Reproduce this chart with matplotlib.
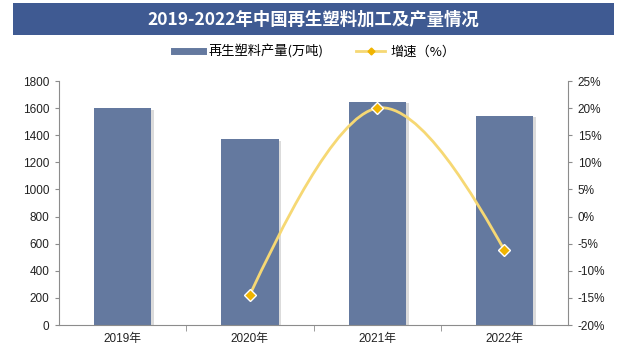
import matplotlib
matplotlib.use('Agg')
import matplotlib.pyplot as plt
import matplotlib.patheffects as pe
from matplotlib.path import Path
from matplotlib.patches import PathPatch, Rectangle
from matplotlib.lines import Line2D
from matplotlib.ticker import FuncFormatter

# data
years = ['2019年', '2020年', '2021年', '2022年']
output = [1600, 1370, 1645, 1545]          # 再生塑料产量(万吨)
growth_years = [1, 2, 3]                    # index of 2020-2022
growth = [-14.4, 20.0, -6.2]                # 增速(%)

plt.rcParams['font.family'] = ['Liberation Sans', 'Noto Sans CJK SC']

bar_color = '#64799f'
line_color = '#f6d874'
marker_color = '#f0b400'
axis_color = '#8c8c8c'

fig = plt.figure(figsize=(6.3, 3.57), dpi=100)

# title banner
fig.patches.append(Rectangle((0.021, 0.902), 0.954, 0.089, transform=fig.transFigure,
                             facecolor='#3f5a92', edgecolor='none'))
fig.text(0.498, 0.946, '2019-2022年中国再生塑料加工及产量情况', ha='center', va='center',
         color='white', fontsize=12.5, fontweight='bold',
         family=['Noto Sans CJK SC', 'DejaVu Sans'])

ax = fig.add_axes([0.0937, 0.0896, 0.808, 0.6834])
x = list(range(len(years)))
bars = ax.bar(x, output, width=0.45, color=bar_color, zorder=2)
for b in bars:
    b.set_path_effects([pe.SimplePatchShadow(offset=(2, -1), shadow_rgbFace='#999999', alpha=0.35),
                        pe.Normal()])
ax.set_xlim(-0.5, len(years) - 0.5)
ax.set_ylim(0, 1800)
ax.set_yticks(range(0, 1801, 200))
ax.set_xticks(x)
ax.set_xticklabels(years)
ax.set_xticks([0.5, 1.5, 2.5], minor=True)
ax.tick_params(axis='x', which='major', length=0, pad=6, labelsize=8.5, colors='#222222')
ax.tick_params(axis='x', which='minor', length=4, direction='out', color=axis_color)
ax.tick_params(axis='y', length=3, direction='out', color=axis_color, labelsize=8.5,
               colors='#222222', pad=4)
for s in ['top', 'right']:
    ax.spines[s].set_visible(False)
for s in ['left', 'bottom']:
    ax.spines[s].set_color(axis_color)

ax2 = ax.twinx()
ax2.set_ylim(-20, 25)
ax2.set_yticks(range(-20, 26, 5))
ax2.yaxis.set_major_formatter(FuncFormatter(lambda v, p: f'{int(v)}%'))
ax2.tick_params(axis='y', length=3, direction='out', color=axis_color, labelsize=8.5,
                colors='#222222', pad=4)
for s in ['top', 'left', 'bottom']:
    ax2.spines[s].set_visible(False)
ax2.spines['right'].set_color(axis_color)

# smoothed growth line: cubic Bezier, interior tangents from neighbours,
# end control points aimed at the neighbouring control point (Excel-like look)
pts = list(zip(growth_years, growth))
n = len(pts)
segs = []
for i in range(n - 1):
    p1, p2 = pts[i], pts[i + 1]
    c1 = c2 = None
    if i > 0:
        p0 = pts[i - 1]
        c1 = (p1[0] + (p2[0] - p0[0]) / 6, p1[1] + (p2[1] - p0[1]) / 6)
    if i + 2 < n:
        p3 = pts[i + 2]
        c2 = (p2[0] - (p3[0] - p1[0]) / 6, p2[1] - (p3[1] - p1[1]) / 6)
    if c1 is None:
        c1 = (p1[0] + (c2[0] - p1[0]) / 3, p1[1] + (c2[1] - p1[1]) / 3)
    if c2 is None:
        c2 = (p2[0] + (c1[0] - p2[0]) / 3, p2[1] + (c1[1] - p2[1]) / 3)
    segs.append((c1, c2, p2))
verts = [pts[0]]
codes = [Path.MOVETO]
for c1, c2, p2 in segs:
    verts += [c1, c2, p2]
    codes += [Path.CURVE4] * 3
ax2.add_patch(PathPatch(Path(verts, codes), facecolor='none', edgecolor=line_color,
                        lw=2.0, zorder=3))
ax2.plot(growth_years, growth, linestyle='none', marker='D', markersize=6.5,
         markerfacecolor=marker_color, markeredgecolor='white', markeredgewidth=1.0,
         zorder=4)

handles = [Line2D([], [], color=bar_color, lw=5),
           Line2D([], [], color=line_color, lw=2, marker='D', markersize=3.5,
                  markerfacecolor=marker_color, markeredgecolor=marker_color)]
fig.legend(handles, ['再生塑料产量(万吨)', '增速（%）'], loc='center',
           bbox_to_anchor=(0.5, 0.855), ncol=2, frameon=False,
           handlelength=2.2, columnspacing=2.5, handletextpad=0.4,
           prop={'family': ['Noto Sans CJK SC', 'DejaVu Sans'], 'size': 9.5})

fig.savefig('out.png', dpi=100)
